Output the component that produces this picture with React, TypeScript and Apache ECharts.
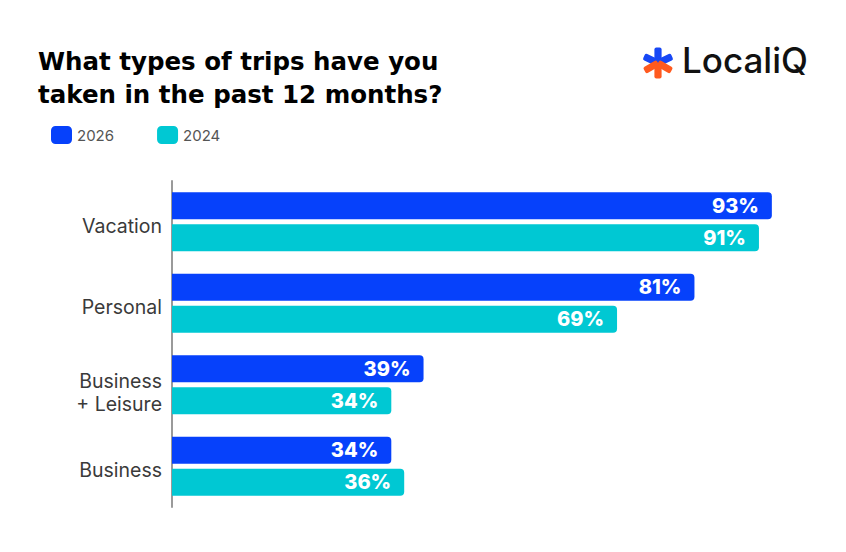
import React, { useEffect, useRef } from "react";
import * as echarts from "echarts";

const categories = ["Vacation", "Personal", "Business\n+ Leisure", "Business"];
const values2026 = [93, 81, 39, 34];
const values2024 = [91, 69, 34, 36];
const seriesNames = ["2026", "2024"];
const titleText = "What types of trips have you\ntaken in the past 12 months?";

const FONT = "Inter, 'Noto Sans', sans-serif";
const TITLE_FONT = "'DejaVu Sans', Inter, sans-serif";
const BLUE = "#0641FB";
const CYAN = "#00C8D3";

function arm(cx: number, cy: number, angleDeg: number, color: string) {
  return {
    type: "group",
    x: cx,
    y: cy,
    rotation: (angleDeg * Math.PI) / 180,
    silent: true,
    children: [
      {
        type: "rect",
        shape: { x: 0, y: -3.6, width: 15.5, height: 7.2, r: 2 },
        style: { fill: color },
      },
    ],
  };
}

export default function App() {
  const ref = useRef<HTMLDivElement>(null);
  useEffect(() => {
    if (!ref.current) return;
    document.body.style.margin = "0";
    const chart = echarts.init(ref.current, null, { renderer: "svg" });
    const cx = 658;
    const cy = 63;
    const labelCfg = {
      show: true,
      position: "insideRight",
      distance: 13,
      formatter: "{c}%",
      color: "#fff",
      fontSize: 20,
      fontWeight: 800,
      fontFamily: FONT,
    };
    const catStyle = { fontSize: 19.5, color: "#3a3a3a", lineHeight: 23, fontFamily: FONT };
    chart.setOption({
      animation: false,
      backgroundColor: "#fff",
      title: {
        text: titleText,
        left: 33,
        top: 40,
        textStyle: {
          fontSize: 24.5,
          fontWeight: "bold",
          color: "#000",
          lineHeight: 33,
          fontFamily: TITLE_FONT,
        },
      },
      legend: {
        left: 51,
        top: 126,
        padding: 0,
        itemWidth: 21,
        itemHeight: 18,
        itemGap: 43,
        icon: "roundRect",
        textStyle: { fontSize: 15, color: "#555", fontFamily: FONT },
        data: seriesNames,
      },
      grid: { left: 172, right: 29, top: 181, bottom: 45, containLabel: false },
      xAxis: {
        type: "value",
        min: 0,
        max: 100,
        show: false,
      },
      yAxis: {
        type: "category",
        data: categories,
        inverse: true,
        axisTick: { show: false },
        axisLine: { show: true, lineStyle: { color: "#9a9a9a", width: 2 } },
        axisLabel: {
          margin: 10,
          ...catStyle,
          formatter: (v: string) => {
            const lines = v.split("\n");
            if (lines.length > 1) {
              return `{p|${lines[0]}}\n{m|${lines[1]}}`;
            }
            return `{s|${v}}`;
          },
          rich: {
            s: { ...catStyle, padding: [8, 0, 0, 0] },
            p: { ...catStyle, padding: [16, 0, 0, 0] },
            m: { ...catStyle, padding: [16, 0, 0, 0] },
          },
        },
      },
      series: [
        {
          name: seriesNames[0],
          type: "bar",
          data: values2026,
          barWidth: 27,
          barGap: "18%",
          itemStyle: { color: BLUE, borderRadius: [0, 4, 4, 0] },
          label: labelCfg,
        },
        {
          name: seriesNames[1],
          type: "bar",
          data: values2024,
          barWidth: 27,
          barGap: "18%",
          itemStyle: { color: CYAN, borderRadius: [0, 4, 4, 0] },
          label: labelCfg,
        },
      ],
      graphic: [
        arm(cx, cy, 90, "#1747F5"),
        arm(cx, cy, 25, "#1747F5"),
        arm(cx, cy, 155, "#1747F5"),
        arm(cx, cy, 210, "#FF5A1F"),
        arm(cx, cy, 330, "#FF5A1F"),
        arm(cx, cy, 270, "#FF5A1F"),
        {
          type: "text",
          left: 682,
          top: 42,
          style: {
            text: "LocaliQ",
            fontSize: 35,
            fontWeight: 500,
            fill: "#111",
            fontFamily: FONT,
          },
        },
      ],
    });
    return () => chart.dispose();
  }, []);
  return <div ref={ref} style={{ width: 846, height: 552 }} />;
}
